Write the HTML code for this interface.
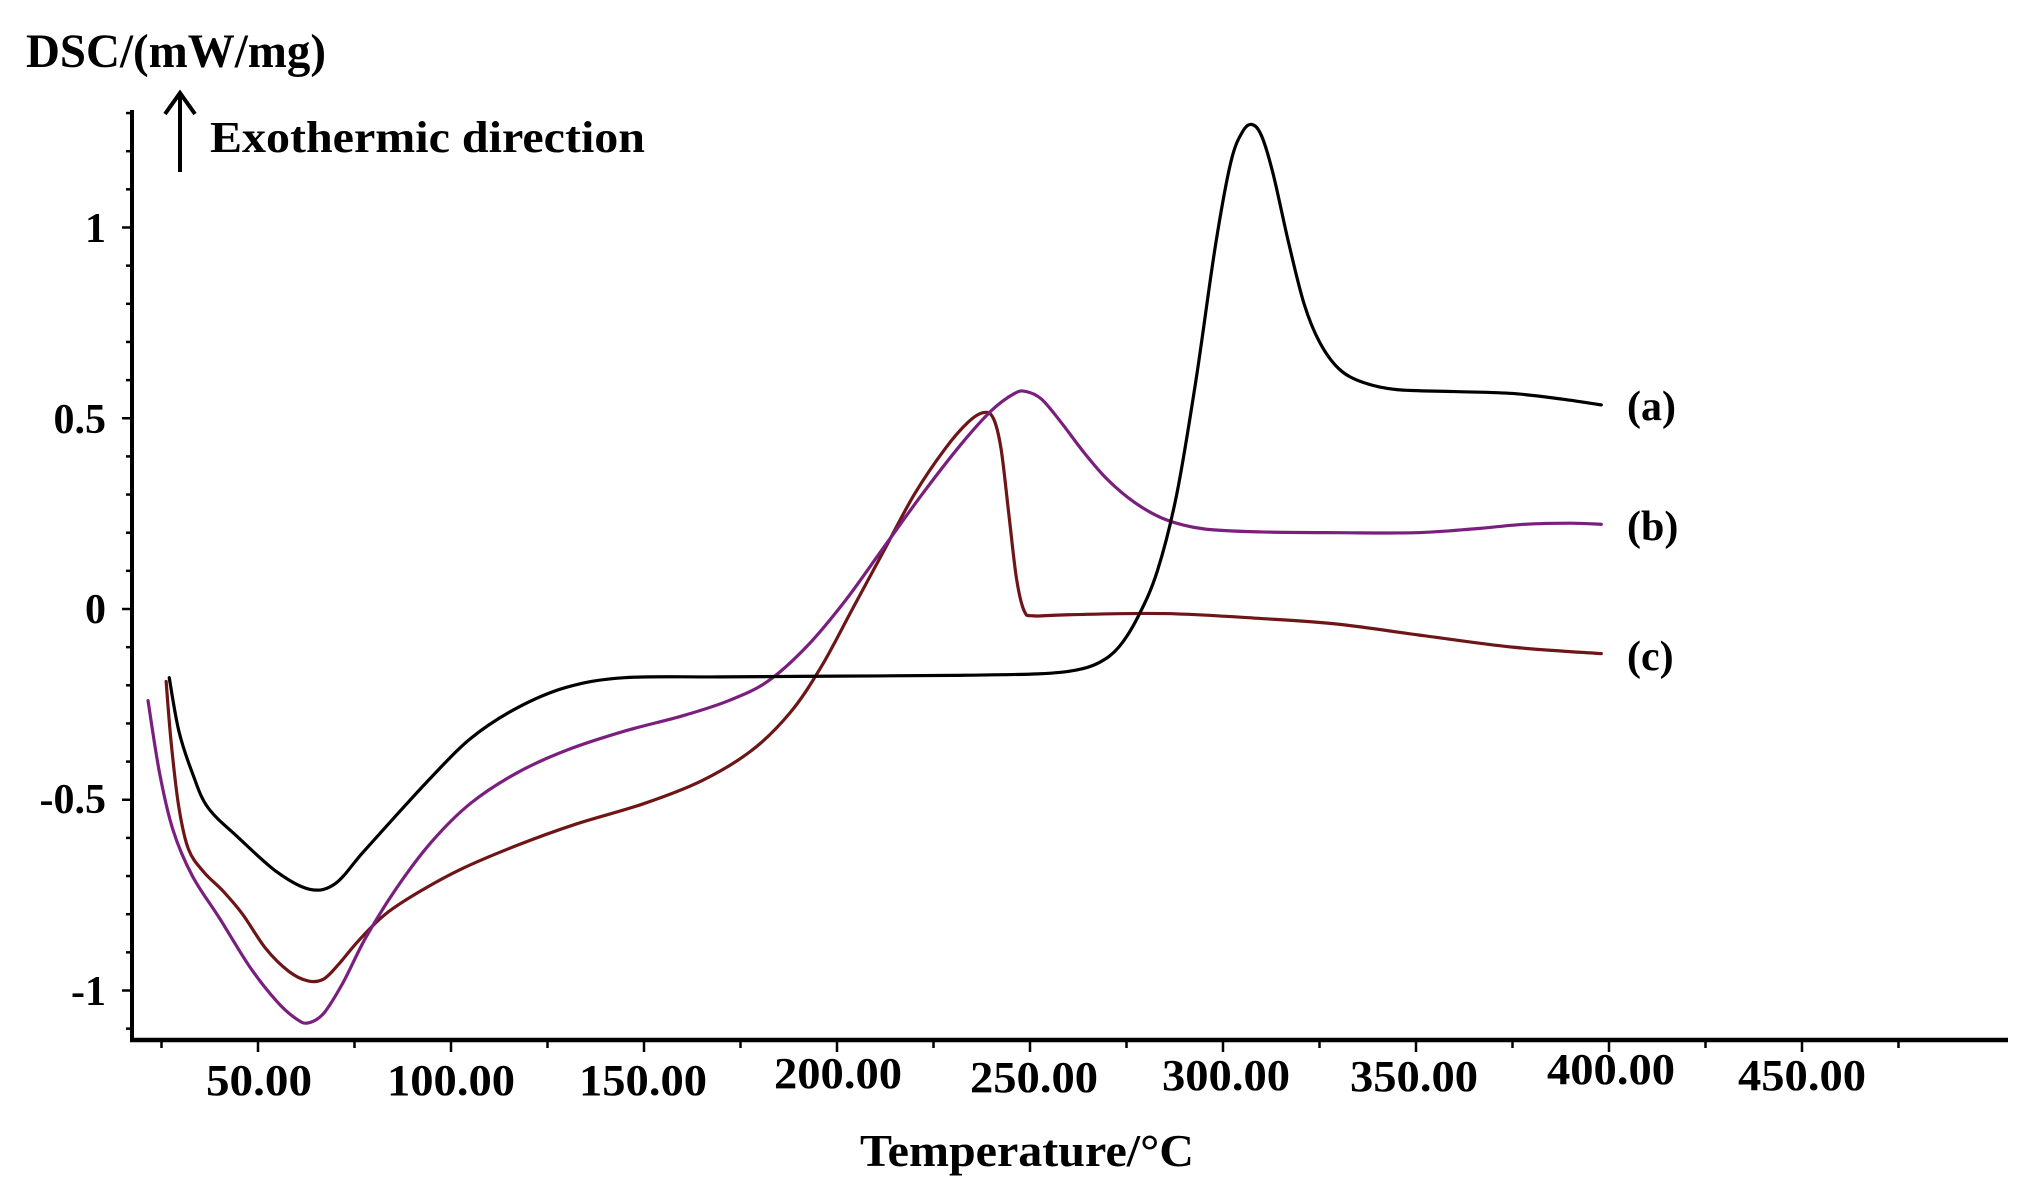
<!DOCTYPE html>
<html><head><meta charset="utf-8"><style>
html,body{margin:0;padding:0;background:#fff;width:2034px;height:1196px;overflow:hidden}
svg{display:block}
text{font-family:"Liberation Serif",serif;font-weight:bold;fill:#000}
</style></head><body>
<svg id="s" width="2034" height="1196" viewBox="0 0 2034 1196">
<rect width="2034" height="1196" fill="#fff"/>
<g id="ticks" stroke="#000" stroke-width="2.5"></g>
<line x1="132" y1="110" x2="132" y2="1041" stroke="#000" stroke-width="4"/>
<line x1="130" y1="1040" x2="2008" y2="1040" stroke="#000" stroke-width="4.5"/>
<text x="26" y="67" font-size="48" textLength="300" lengthAdjust="spacingAndGlyphs">DSC/(mW/mg)</text>
<line x1="180" y1="94" x2="180" y2="172" stroke="#000" stroke-width="4"/>
<polyline points="165,114 180,93 195,114" fill="none" stroke="#000" stroke-width="4"/>
<text x="210" y="152" font-size="44" textLength="435" lengthAdjust="spacingAndGlyphs">Exothermic direction</text>
<g font-size="42" text-anchor="end">
<text x="106" y="242">1</text>
<text x="106" y="433">0.5</text>
<text x="106" y="623">0</text>
<text x="106" y="813">-0.5</text>
<text x="106" y="1005">-1</text>
</g>
<g font-size="44" text-anchor="middle">
<text x="259" y="1095" textLength="106" lengthAdjust="spacingAndGlyphs">50.00</text>
<text x="451" y="1095" textLength="128" lengthAdjust="spacingAndGlyphs">100.00</text>
<text x="643" y="1095" textLength="128" lengthAdjust="spacingAndGlyphs">150.00</text>
<text x="838" y="1088" textLength="128" lengthAdjust="spacingAndGlyphs">200.00</text>
<text x="1034" y="1092" textLength="128" lengthAdjust="spacingAndGlyphs">250.00</text>
<text x="1226" y="1090" textLength="128" lengthAdjust="spacingAndGlyphs">300.00</text>
<text x="1414" y="1091" textLength="128" lengthAdjust="spacingAndGlyphs">350.00</text>
<text x="1611" y="1084" textLength="128" lengthAdjust="spacingAndGlyphs">400.00</text>
<text x="1802" y="1090" textLength="128" lengthAdjust="spacingAndGlyphs">450.00</text>
</g>
<text x="860" y="1166" font-size="46" textLength="334" lengthAdjust="spacingAndGlyphs">Temperature/°C</text>
<g font-size="42">
<text x="1627" y="420">(a)</text>
<text x="1627" y="540">(b)</text>
<text x="1627" y="670">(c)</text>
</g>
<g id="curves" fill="none" stroke-width="3.2" stroke-linejoin="round" stroke-linecap="round"></g>
</svg>
<script>
var NS="http://www.w3.org/2000/svg";
function X(T){return 258+(T-50)*3.86;}
function Y(v){return 609-v*381.5;}
var t=document.getElementById('ticks'),s="";
for(var v=-1.1;v<=1.31;v+=0.1){var y=Y(v),maj=Math.abs(v*2-Math.round(v*2))<1e-6;s+='<line x1="'+(maj?122:126)+'" y1="'+y+'" x2="132" y2="'+y+'"/>';}
for(var T=25;T<=475;T+=25){var x=X(T),maj=(T%50==0);s+='<line x1="'+x+'" y1="1040" x2="'+x+'" y2="'+(maj?1052:1048)+'"/>';}
t.innerHTML=s;
var a=[[27,-0.18],[29.5,-0.32],[33,-0.43],[37,-0.52],[45,-0.6],[55,-0.69],[63.5,-0.735],[70,-0.72],[77,-0.64],[85,-0.55],[95,-0.44],[105,-0.34],[117,-0.26],[130,-0.205],[145,-0.18],[170,-0.178],[200,-0.176],[230,-0.174],[252,-0.17],[262,-0.16],[268,-0.14],[273,-0.1],[278,-0.02],[283,0.1],[288,0.3],[293,0.6],[298,0.95],[302,1.17],[305,1.25],[307.5,1.27],[310,1.24],[313,1.14],[317,0.96],[321,0.8],[325,0.7],[330,0.63],[336,0.595],[345,0.575],[360,0.57],[375,0.565],[388,0.55],[398,0.535]];
var b=[[21.5,-0.24],[24.5,-0.43],[28,-0.58],[33,-0.7],[40,-0.81],[48,-0.94],[55,-1.03],[60,-1.075],[63,-1.085],[67,-1.06],[72,-0.98],[78,-0.86],[86,-0.73],[95,-0.61],[105,-0.51],[117,-0.43],[130,-0.37],[145,-0.32],[160,-0.28],[172,-0.24],[182,-0.19],[192,-0.1],[202,0.02],[212,0.16],[222,0.3],[232,0.43],[240,0.52],[246,0.565],[249,0.57],[253,0.55],[258,0.49],[264,0.41],[270,0.34],[277,0.28],[285,0.235],[295,0.21],[310,0.202],[330,0.2],[350,0.2],[365,0.21],[378,0.222],[390,0.225],[398,0.222]];
var c=[[26.2,-0.19],[27.5,-0.35],[29.5,-0.52],[32,-0.63],[36,-0.69],[41,-0.74],[46,-0.8],[52,-0.89],[58,-0.95],[63,-0.975],[67,-0.97],[71,-0.93],[76,-0.87],[83,-0.8],[92,-0.74],[103,-0.68],[117,-0.62],[132,-0.565],[150,-0.51],[165,-0.45],[178,-0.37],[188,-0.27],[196,-0.15],[204,0.0],[212,0.15],[220,0.3],[228,0.42],[234,0.49],[238,0.515],[240.5,0.5],[242.5,0.42],[244.5,0.25],[246.5,0.08],[248.5,-0.005],[251,-0.018],[260,-0.015],[285,-0.012],[310,-0.025],[330,-0.04],[352,-0.07],[375,-0.1],[398,-0.117]];
function path(p){var P=p.map(function(q){return [X(q[0]),Y(q[1])];});var d="M"+P[0][0]+","+P[0][1];
for(var i=0;i<P.length-1;i++){var p0=P[i-1]||P[i],p1=P[i],p2=P[i+1],p3=P[i+2]||p2;var k=6;
d+=" C"+(p1[0]+(p2[0]-p0[0])/k)+","+(p1[1]+(p2[1]-p0[1])/k)+" "+(p2[0]-(p3[0]-p1[0])/k)+","+(p2[1]-(p3[1]-p1[1])/k)+" "+p2[0]+","+p2[1];}
return d;}
var g=document.getElementById('curves');
[[c,"#6e1518"],[b,"#7a1f7e"],[a,"#000"]].forEach(function(o){var e=document.createElementNS(NS,"path");e.setAttribute("d",path(o[0]));e.setAttribute("stroke",o[1]);g.appendChild(e);});
</script>
</body></html>
